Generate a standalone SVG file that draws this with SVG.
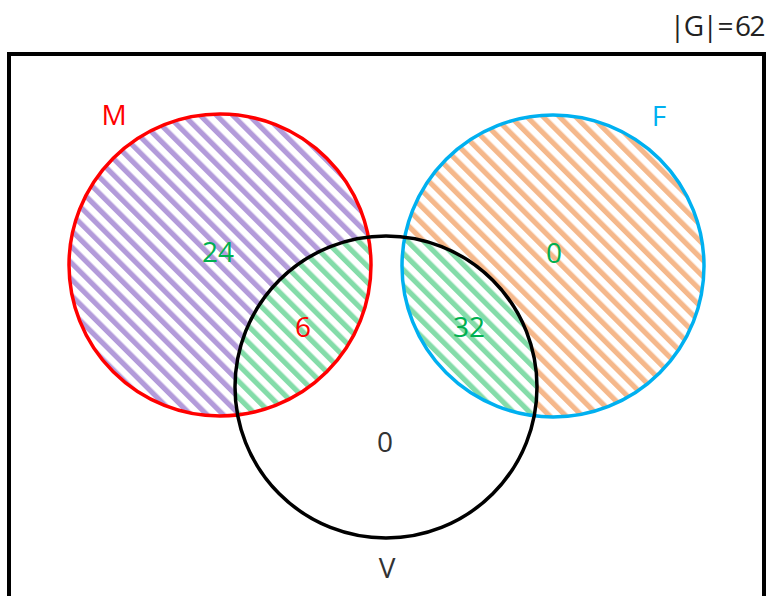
<svg xmlns="http://www.w3.org/2000/svg" width="769" height="596" viewBox="0 0 769 596">
<style>
text{font-family:"Open Sans","Noto Sans","DejaVu Sans",sans-serif;font-size:28px;text-anchor:middle}
.g{fill:#00b050}.r{fill:#ff0000}.k{fill:#333333}.b{fill:#00b0f0}
.ring{fill:none;stroke-width:3.5}
</style>
<defs>
<pattern id="pp" patternUnits="userSpaceOnUse" width="11.5" height="11.5" patternTransform="rotate(-45)">
<rect x="0" y="0" width="5.2" height="11.5" fill="#b39bda"/>
</pattern>
<pattern id="po" patternUnits="userSpaceOnUse" width="11.5" height="11.5" patternTransform="rotate(-45)">
<rect x="0" y="0" width="5.2" height="11.5" fill="#f5b88b"/>
</pattern>
<pattern id="pg" patternUnits="userSpaceOnUse" width="11.5" height="11.5" patternTransform="rotate(-45)">
<rect x="0" y="0" width="5.2" height="11.5" fill="#84dca9"/>
</pattern>
<clipPath id="cv"><circle cx="386" cy="387" r="151"/></clipPath>
</defs>
<rect id="universe" x="9" y="54" width="755" height="600" fill="#ffffff" stroke="#000" stroke-width="4"/>
<g id="fills">
<circle cx="220" cy="265" r="151" fill="url(#pp)"/>
<circle cx="553" cy="266" r="151" fill="url(#po)"/>
<g clip-path="url(#cv)">
<circle cx="220" cy="265" r="151" fill="#ffffff"/>
<circle cx="220" cy="265" r="151" fill="url(#pg)"/>
<circle cx="553" cy="266" r="151" fill="#ffffff"/>
<circle cx="553" cy="266" r="151" fill="url(#pg)"/>
</g>
</g>
<g id="M"><circle class="ring" cx="220" cy="265" r="151" stroke="#ff0000"/><text x="114" y="125" class="r">M</text></g>
<g id="F"><circle class="ring" cx="553" cy="266" r="151" stroke="#00b0f0"/><text x="659" y="126" class="b">F</text></g>
<g id="V"><circle class="ring" cx="386" cy="387" r="151" stroke="#000"/><text x="387" y="578" class="k">V</text></g>
<g id="counts">
<text x="218" y="262" class="g">24</text>
<text x="303" y="337" class="r">6</text>
<text x="554" y="263" class="g">0</text>
<text x="469" y="337" class="g">32</text>
<text x="385" y="452" class="k">0</text>
</g>
<g id="total"><text x="764" y="36" style="text-anchor:end;fill:#222;letter-spacing:-1.5px">|G|<tspan dx="1">=</tspan><tspan dx="3">62</tspan></text></g>
</svg>
